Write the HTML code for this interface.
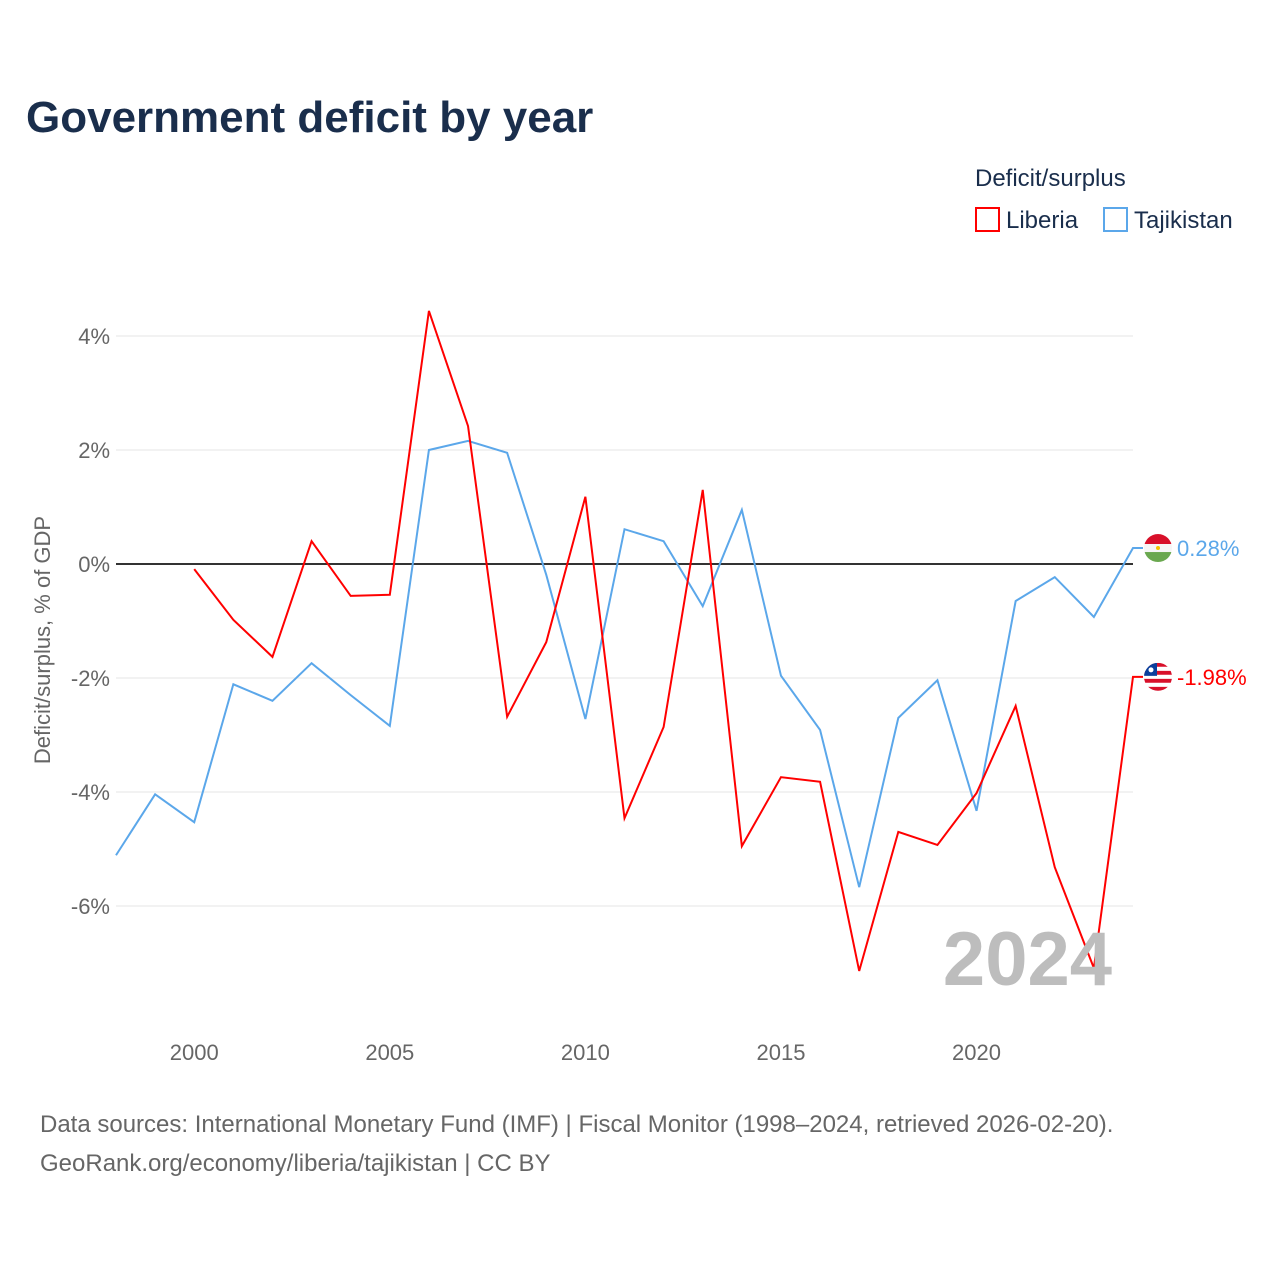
<!DOCTYPE html>
<html><head><meta charset="utf-8"><style>
body{margin:0;background:#fff;font-family:"Liberation Sans",sans-serif}
</style></head><body>
<svg id="c" width="1280" height="1280" xmlns="http://www.w3.org/2000/svg">
<defs><clipPath id="cl"><circle cx="0" cy="0" r="14"/></clipPath></defs>
<text x="26" y="132" font-size="44" font-weight="bold" fill="#1a2e4c">Government deficit by year</text>
<text x="975" y="186" font-size="24" fill="#1a2e4c">Deficit/surplus</text>
<g><rect x="976" y="208" width="23" height="23" fill="none" stroke="#f00" stroke-width="2"/><text x="1006" y="228" font-size="24" fill="#1a2e4c">Liberia</text></g>
<g><rect x="1104" y="208" width="23" height="23" fill="none" stroke="#5ba7ea" stroke-width="2"/><text x="1134" y="228" font-size="24" fill="#1a2e4c">Tajikistan</text></g>
<text transform="translate(50,640) rotate(-90)" text-anchor="middle" font-size="22" fill="#666">Deficit/surplus, % of GDP</text>
<g id="grid"></g><g id="series"></g>
<text x="1112" y="985" text-anchor="end" font-size="76" font-weight="bold" fill="#bdbdbd">2024</text>
<text x="40" y="1132" font-size="24" fill="#666">Data sources: International Monetary Fund (IMF) | Fiscal Monitor (1998–2024, retrieved 2026-02-20).</text>
<text x="40" y="1171" font-size="24" fill="#666">GeoRank.org/economy/liberia/tajikistan | CC BY</text>
</svg>
<script>
const yTicks=[4,2,0,-2,-4,-6];
const xTicks=[2000,2005,2010,2015,2020];
const liberiaYears=[2000,2001,2002,2003,2004,2005,2006,2007,2008,2009,2010,2011,2012,2013,2014,2015,2016,2017,2018,2019,2020,2021,2022,2023,2024];
const liberiaValues=[-0.09,-0.98,-1.63,0.40,-0.56,-0.54,4.44,2.42,-2.68,-1.37,1.18,-4.46,-2.86,1.30,-4.95,-3.74,-3.82,-7.14,-4.70,-4.93,-4.02,-2.49,-5.32,-7.09,-1.98];
const tajikYears=[1998,1999,2000,2001,2002,2003,2004,2005,2006,2007,2008,2009,2010,2011,2012,2013,2014,2015,2016,2017,2018,2019,2020,2021,2022,2023,2024];
const tajikValues=[-5.11,-4.04,-4.53,-2.11,-2.40,-1.74,-2.30,-2.84,2.0,2.16,1.95,-0.19,-2.72,0.61,0.40,-0.74,0.95,-1.96,-2.91,-5.67,-2.70,-2.04,-4.33,-0.65,-0.23,-0.93,0.28];
const NS="http://www.w3.org/2000/svg";
const xs=y=>116+(y-1998)*(1133-116)/26;
const ys=v=>564-v*57;
function mk(t,a,p){const e=document.createElementNS(NS,t);for(const k in a)e.setAttribute(k,a[k]);p.appendChild(e);return e;}
const g=document.getElementById('grid'),s=document.getElementById('series');
yTicks.forEach(v=>{
 const l=mk('line',{x1:116,x2:1133,y1:ys(v),y2:ys(v),stroke:v===0?'#333':'#e6e6e6','stroke-width':v===0?2:1},g);
 
 
 const t=mk('text',{x:110,y:ys(v)+8,'text-anchor':'end','font-size':22,fill:'#666'},g);
 t.textContent=v+'%';
 
 
});
xTicks.forEach(y=>{
 const t=mk('text',{x:xs(y),y:1060,'text-anchor':'middle','font-size':22,fill:'#666'},g);
 t.textContent=y;
 
 
});
function line(yrs,vals,col,name,flag){
 const pts=yrs.map((y,i)=>xs(y)+','+ys(vals[i]));
 const last=vals[vals.length-1],lx=xs(yrs[yrs.length-1]),ly=ys(last);
 pts.push((lx+10)+','+ly);
 const p=mk('polyline',{points:pts.join(' '),fill:'none',stroke:col,'stroke-width':2},s);
 
 
 const fg=mk('g',{transform:'translate('+(lx+25)+','+ly+')','clip-path':'url(#cl)'},s);
 
 
 if(flag==='tj'){
  mk('rect',{x:-14,y:-14,width:28,height:10,fill:'#d8102a'},fg);
  mk('rect',{x:-14,y:-4,width:28,height:8,fill:'#f6f6f6'},fg);
  mk('rect',{x:-14,y:4,width:28,height:10,fill:'#6aa84f'},fg);
  mk('circle',{cx:0,cy:0,r:2,fill:'#f3c400'},fg);
 } else {
  for(let i=0;i<7;i++) mk('rect',{x:-14,y:-14+i*4,width:28,height:4,fill:i%2?'#fff':'#d8102a'},fg);
  mk('rect',{x:-14,y:-14,width:13,height:13,fill:'#0a3f9c'},fg);
  mk('circle',{cx:-7,cy:-7,r:2.5,fill:'#fff'},fg);
 }
 const t=mk('text',{x:lx+44,y:ly+8,'font-size':22,fill:col},s);
 t.textContent=last.toFixed(2)+'%';
 
 
}
line(tajikYears,tajikValues,'#5ba7ea','tajikistan-line','tj');
line(liberiaYears,liberiaValues,'#f00','liberia-line','lr');
</script>
</body></html>
